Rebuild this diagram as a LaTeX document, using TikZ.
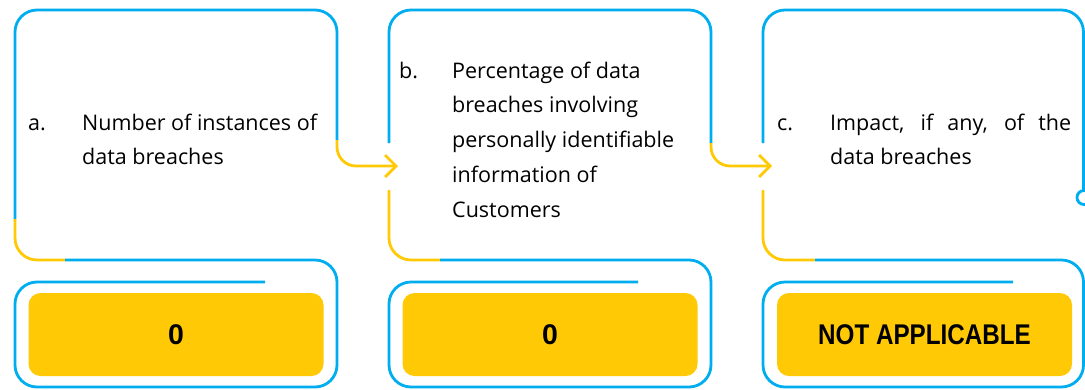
\documentclass[tikz,border=0pt]{standalone}
\usepackage{fontspec}
\setmainfont{Open Sans}
\newfontfamily\valuefont{Liberation Sans}
\usetikzlibrary{arrows.meta}
\definecolor{frameblue}{HTML}{00AEEF}
\definecolor{accentyellow}{HTML}{FFCA05}

\tikzset{
  frame/.style={draw=frameblue,line width=2.8pt,rounded corners=22pt},
  accent/.style={draw=accentyellow,line width=2.8pt,rounded corners=22pt},
  flow/.style={draw=accentyellow,line width=2.8pt,rounded corners=19pt,
    -{Straight Barb[length=11pt,width=22pt,line width=2.8pt]}},
  valuebox/.style={fill=accentyellow,rounded corners=12pt,inner sep=0pt,
    minimum width=295pt,minimum height=83pt,
    font=\valuefont\bfseries\fontsize{28.5}{28.5}\selectfont},
  itemlabel/.style={anchor=base west,inner sep=0pt,
    font=\fontsize{21.5}{34.8}\selectfont},
  itemtext/.style={anchor=base west,inner sep=0pt,
    font=\fontsize{21.5}{34.8}\selectfont}
}

\begin{document}
\begin{tikzpicture}[x=1pt,y=-1pt]
\useasboundingbox (0,0) rectangle (1085,389);

% ---------- panel a ----------
\draw[frame] (15,219) -- (15,10) -- (337,10) -- (337,140);
\draw[accent] (15,219) -- (15,260) -- (65,260);
\draw[frame] (65,260) -- (337,260) -- (337,387) -- (15,387) -- (15,282) -- (265,282);
\node[itemlabel] (la) at (28,130) {a.};
\node[itemtext] (ta) at (82,130) {\parbox[t]{250pt}{\raggedright
  Number of instances of\\data breaches}};
\node[valuebox] (va) at (176,334.5) {0};

% ---------- panel b ----------
\draw[frame] (389,143) -- (389,10) -- (711,10) -- (711,143);
\draw[accent] (389,190) -- (389,260) -- (440,260);
\draw[frame] (440,260) -- (711,260) -- (711,387) -- (389,387) -- (389,282) -- (638,282);
\node[itemlabel] (lb) at (399,78) {b.};
\node[itemtext] (tb) at (452,78) {\parbox[t]{250pt}{\raggedright
  Percentage of data\\breaches involving\\personally identifiable\\information of\\Customers}};
\node[valuebox] (vb) at (550,334.5) {0};

% ---------- panel c ----------
\draw[frame] (763,143) -- (763,10) -- (1083.5,10) -- (1083.5,190);
\draw[frameblue,line width=2.8pt] (1084,197.5) circle[radius=7pt];
\draw[accent] (763,190) -- (763,260) -- (815,260);
\draw[frame] (815,260) -- (1083.5,260) -- (1083.5,387) -- (763,387) -- (763,282) -- (1013,282);
\node[itemlabel] (lc) at (777,130) {c.};
\node[itemtext] (tc) at (830,130) {\parbox[t]{250pt}{\raggedright
  \makebox[241pt][s]{Impact, if any, of the}\\data breaches}};
\node[valuebox] (vc) at (924.5,334.5) {\scalebox{0.85}[1]{NOT APPLICABLE}};

% ---------- flow between panels ----------
\coordinate (a-out) at (337,140);
\coordinate (b-in) at (398,166);
\coordinate (b-out) at (711,143);
\coordinate (c-in) at (772,166);
\draw[flow] (a-out) |- (b-in);
\draw[flow] (b-out) |- (c-in);
\end{tikzpicture}
\end{document}
